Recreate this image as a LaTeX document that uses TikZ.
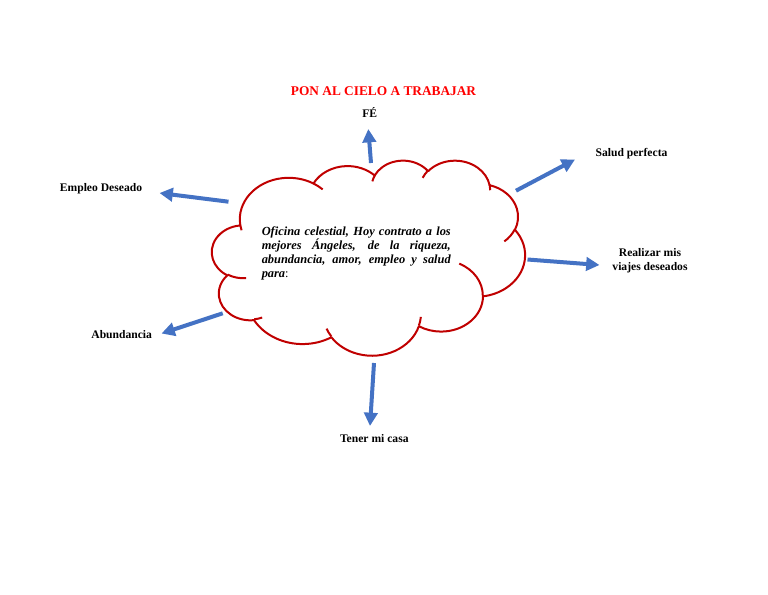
\documentclass[tikz,border=0pt]{standalone}
\usepackage{fontspec}
\setmainfont{Liberation Serif}
\usetikzlibrary{arrows.meta}
\definecolor{azul}{RGB}{68,114,196}
\definecolor{rojo}{RGB}{192,0,0}
\tikzset{
	etiqueta/.style={font=\bfseries\fontsize{8.7}{10.5}\selectfont, inner sep=0pt, align=center},
	flecha/.style={draw=azul, line width=3pt, -{Triangle[length=10pt,width=10pt]}},
	nube/.style={draw=rojo, line width=1.5pt, line join=round},
}
\begin{document}
\begin{tikzpicture}[x=0.75pt, y=-0.75pt]
		\fill[white] (0,0) rectangle (768,594);
		% titulo
		\node (titulo) [anchor=base, inner sep=0pt, text=red, font=\bfseries\fontsize{10}{12}\selectfont] at (383.5,95.7) {PON AL CIELO A TRABAJAR};
		% nube
		\begin{scope}[shift={(212,160)}, x=0.05434pt, y=-0.033854pt]
			\draw[nube, fill=white] (390,1437)
				\foreach \ew/\eh/\ea/\eb [evaluate={\ea as \pa using atan2(\ew*sin(\ea),\eh*cos(\ea))},
					evaluate={\eb as \pd using mod(atan2(\ew*sin(\ea+\eb),\eh*cos(\ea+\eb))-atan2(\ew*sin(\ea),\eh*cos(\ea))+540,360)-180}]
					in {675.3/919.0/-190.4875/123.7805, 533.3/726.7/-144.1024/89.9452,
						436.5/594.5/-145.8079/99.7230, 485.7/659.5/-130.9861/117.2417,
						533.3/727.3/-78.7089/109.0269, 677.5/922.0/-46.2673/130.2690,
						578.5/786.7/0.6250/114.0333, 675.2/921.5/22.4516/115.1726,
						772.0/1054.3/66.2426/75.7110, 436.0/591.8/-274.9421/146.7356,
						434.5/594.5/-246.8285/152.5189}
				{ arc[start angle=\pa, delta angle=\pd, x radius=\ew, y radius=\eh] } -- cycle;
			% arcos interiores
			\foreach \hx/\hy/\ew/\eh/\ea/\eb [evaluate={\ea as \pa using atan2(\ew*sin(\ea),\eh*cos(\ea))},
				evaluate={\eb as \pd using mod(atan2(\ew*sin(\ea+\eb),\eh*cos(\ea+\eb))-atan2(\ew*sin(\ea),\eh*cos(\ea))+540,360)-180}]
				in {469.3/2617.7/434.5/594.5/86.742/26.4295, 692.8/3489.9/436.0/591.8/73.6105/11.4475,
					1647.8/3909.0/675.2/921.5/137.6242/14.0811, 2882.7/3475.1/675.2/921.5/6.4533/15.9984,
					3412.9/2295.4/578.5/786.7/-70.2924/70.9174, 4179.8/1535.4/533.3/727.3/30.318/27.7515,
					3832.4/542.6/485.7/659.5/-13.7443/14.8589, 2907.8/395.2/485.7/659.5/-149.1815/18.1954,
					2214.1/472.0/436.5/594.5/-163.4943/17.6864, 1400.4/520.1/675.3/919.0/-66.707/12,
					407.9/1556.4/675.3/919.0/159.51/10}
				\draw[nube] (\hx,\hy) arc[start angle=\pa, delta angle=\pd, x radius=\ew, y radius=\eh];
		\end{scope}
		\node (oficina) [anchor=north west, inner sep=0pt, text width=141.75pt, align=justify,
			font=\bfseries\itshape\fontsize{9.3}{10.7}\selectfont] at (261.5,226)
			{\tolerance=10000 Oficina celestial, Hoy contrato a los\linebreak mejores Ángeles, de la riqueza,\linebreak abundancia, amor, empleo y salud\linebreak para{\normalfont:}};
		% etiquetas
		\node (fe) [etiqueta, anchor=base] at (369.7,117.7) {FÉ};
		\node (salud) [etiqueta, anchor=base] at (631.5,156) {Salud perfecta};
		\node (empleo) [etiqueta, anchor=base] at (101,191.7) {Empleo Deseado};
		\node (viajes) [etiqueta] at (650,260.5) {Realizar mis\\viajes deseados};
		\node (abundancia) [etiqueta, anchor=base] at (121.7,338.3) {Abundancia};
		\node (casa) [etiqueta, anchor=base] at (374.3,442.7) {Tener mi casa};
		% flechas
		\coordinate (feA) at (371,163);
		\coordinate (feB) at (368.3,129);
		\coordinate (saludA) at (516,190.7);
		\coordinate (saludB) at (575,159.5);
		\coordinate (empleoA) at (228.5,201.7);
		\coordinate (empleoB) at (159.5,193);
		\coordinate (viajesA) at (527.5,259.5);
		\coordinate (viajesB) at (599.5,265);
		\coordinate (abundanciaA) at (222.7,313.3);
		\coordinate (abundanciaB) at (161.5,333.5);
		\coordinate (casaA) at (374,363);
		\coordinate (casaB) at (370,426);
		\draw[flecha] (feA) -- (feB);
		\draw[flecha] (saludA) -- (saludB);
		\draw[flecha] (empleoA) -- (empleoB);
		\draw[flecha] (viajesA) -- (viajesB);
		\draw[flecha] (abundanciaA) -- (abundanciaB);
		\draw[flecha] (casaA) -- (casaB);
\end{tikzpicture}
\end{document}
